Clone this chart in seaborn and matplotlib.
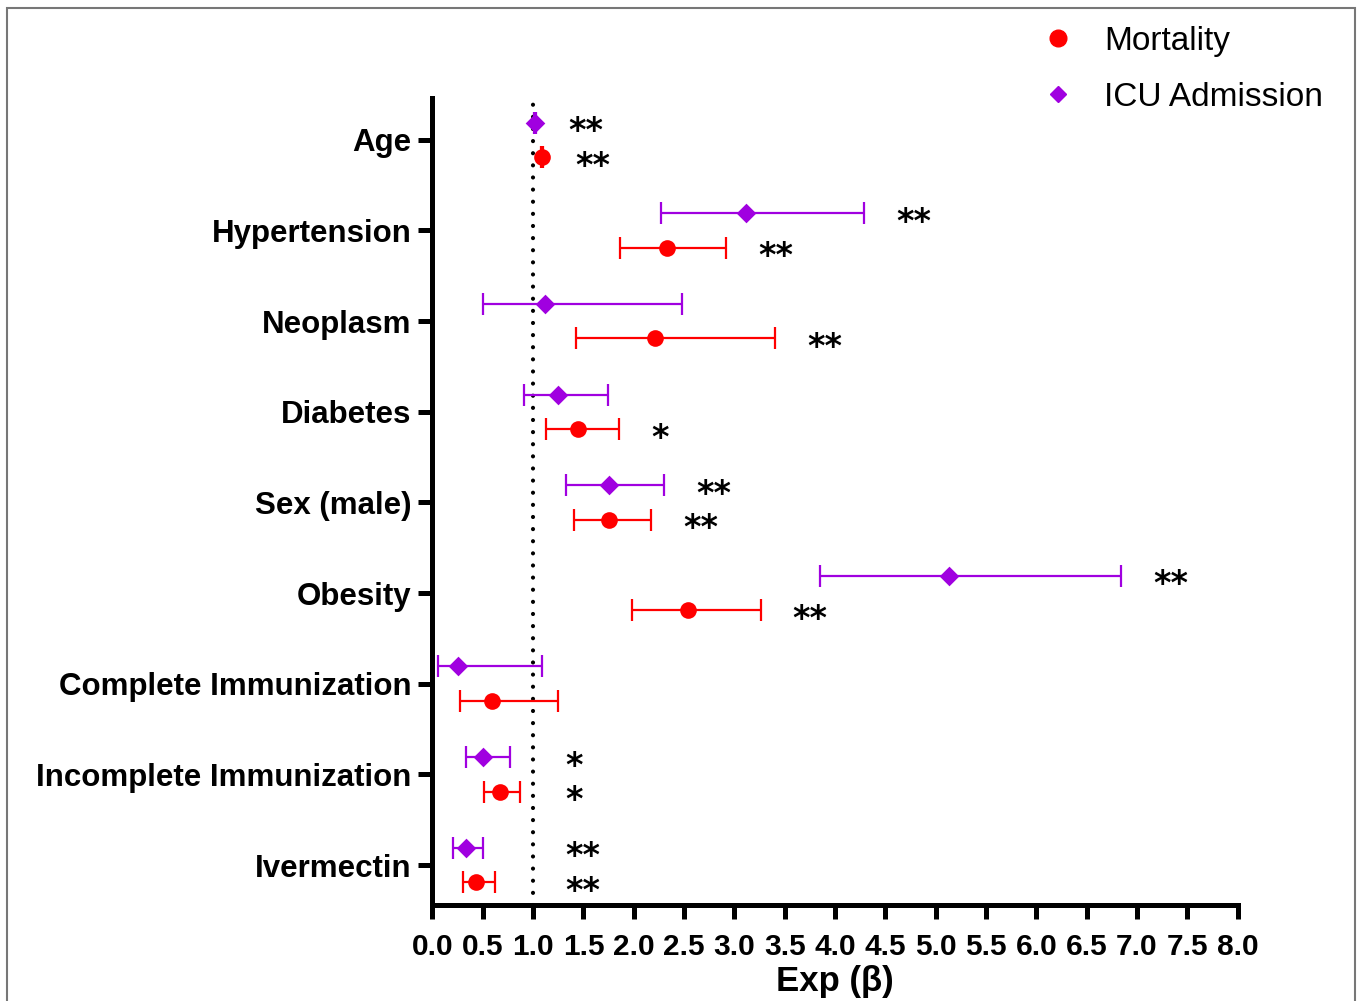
import matplotlib
matplotlib.use("Agg")
import matplotlib.pyplot as plt
import seaborn as sns
import pandas as pd
from matplotlib.patches import Rectangle
from matplotlib.lines import Line2D

# datos
categorias = ["Age", "Hypertension", "Neoplasm", "Diabetes", "Sex (male)",
              "Obesity", "Complete Immunization", "Incomplete Immunization", "Ivermectin"]

mort_est = [1.09, 2.33, 2.21, 1.45, 1.75, 2.54, 0.59, 0.67, 0.43]
mort_lo = [1.08, 1.86, 1.43, 1.13, 1.41, 1.98, 0.27, 0.51, 0.30]
mort_hi = [1.10, 2.92, 3.40, 1.85, 2.17, 3.26, 1.25, 0.87, 0.62]
mort_sig = ["**", "**", "**", "*", "**", "**", "", "*", "**"]

icu_est = [1.02, 3.12, 1.12, 1.25, 1.75, 5.13, 0.25, 0.50, 0.33]
icu_lo = [1.01, 2.27, 0.50, 0.91, 1.33, 3.85, 0.05, 0.33, 0.20]
icu_hi = [1.03, 4.29, 2.48, 1.74, 2.30, 6.84, 1.09, 0.77, 0.50]
icu_sig = ["**", "**", "", "", "**", "**", "", "*", "**"]

x_ticks = [i * 0.5 for i in range(17)]

rojo = "#FF0000"
morado = "#A000E0"

sns.set_theme(style="ticks")
plt.rcParams["font.family"] = ["Liberation Sans", "DejaVu Sans"]
plt.rcParams["text.color"] = "black"
plt.rcParams["axes.labelcolor"] = "black"
plt.rcParams["xtick.color"] = "black"
plt.rcParams["ytick.color"] = "black"

df_m = pd.DataFrame({"cat": categorias, "est": mort_est, "lo": mort_lo, "hi": mort_hi, "sig": mort_sig})
df_m["y"] = [i + 0.19 for i in range(len(categorias))]
df_i = pd.DataFrame({"cat": categorias, "est": icu_est, "lo": icu_lo, "hi": icu_hi, "sig": icu_sig})
df_i["y"] = [i - 0.19 for i in range(len(categorias))]

fig = plt.figure(figsize=(13.6, 10.01), dpi=100)
ax = fig.add_axes([0.318, 0.096, 0.592, 0.806])

# linea de referencia en 1
ax.axvline(1.0, color="black", lw=3, ls=(0, (0.01, 2.9)), dash_capstyle="round", zorder=1)

for df, col, mk, ms in [(df_m, rojo, "o", 12), (df_i, morado, "D", 10)]:
    ax.errorbar(df["est"], df["y"], xerr=[df["est"] - df["lo"], df["hi"] - df["est"]],
                fmt="none", ecolor=col, elinewidth=1.6, capsize=8, capthick=1.6, zorder=2)
    sns.scatterplot(data=df, x="est", y="y", ax=ax, color=col, marker=mk, s=ms ** 2,
                    edgecolor=col, linewidth=0, zorder=3, legend=False)
    for _, r in df.iterrows():
        if r["sig"]:
            ax.text(max(r["hi"], 1.0) + 0.32, r["y"] + 0.1, r["sig"], ha="left", va="center",
                    fontsize=24, fontweight="bold", color="black", family="DejaVu Sans")

ax.set_xlim(0, 8)
ax.set_ylim(8.44, -0.46)
ax.set_xticks(x_ticks)
ax.set_xticklabels([f"{v:.1f}" for v in x_ticks], fontsize=21.5, fontweight="bold")
ax.set_yticks(range(len(categorias)))
ax.set_yticklabels(categorias, fontsize=22.5, fontweight="bold")
ax.set_xlabel("Exp (β)", fontsize=25, fontweight="bold", labelpad=3)
ax.set_ylabel("")

sns.despine(ax=ax)
for s in ["left", "bottom"]:
    ax.spines[s].set_linewidth(3.6)
    ax.spines[s].set_color("black")
ax.tick_params(axis="both", length=10, width=3.6, color="black", pad=5)
ax.tick_params(axis="x", pad=10)

handles = [Line2D([], [], ls="none", marker="o", ms=12, color=rojo, mec=rojo),
           Line2D([], [], ls="none", marker="D", ms=8, color=morado, mec=morado)]
fig.legend(handles, ["Mortality", "ICU Admission"], loc="upper right",
           bbox_to_anchor=(0.995, 1.004), frameon=False, fontsize=24,
           handletextpad=0.4, labelspacing=0.75)

# marco gris alrededor de la figura
fig.patches.append(Rectangle((7 / 1360, -0.01), 1348 / 1360, 1 - 8 / 1001 + 0.01,
                             transform=fig.transFigure, fill=False, edgecolor="#777777", lw=1.5))

fig.savefig("out.png", dpi=100)
